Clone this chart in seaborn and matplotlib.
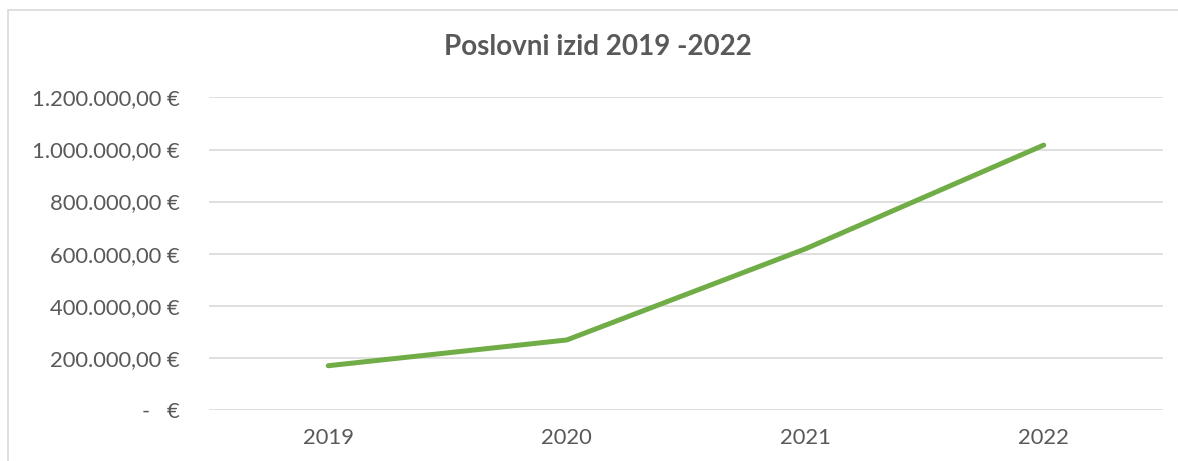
import matplotlib
matplotlib.use("Agg")
import matplotlib.pyplot as plt
from matplotlib.ticker import FuncFormatter
from matplotlib.patches import Rectangle
import seaborn as sns
import pandas as pd

years = ["2019", "2020", "2021", "2022"]
values = [169000, 268000, 618000, 1017000]
y_ticks = [0, 200000, 400000, 600000, 800000, 1000000, 1200000]
title = "Poslovni izid 2019 -2022"

sns.set_theme(style="white")
plt.rcParams['font.family'] = ['Lato', 'DejaVu Sans']

df = pd.DataFrame({"year": years, "value": values})

fig = plt.figure(figsize=(11.78, 4.61), dpi=100)
ax = fig.add_axes([209/1178, (461-409.7)/461, (1163-209)/1178, (409.7-97.5)/461])

sns.lineplot(data=df, x="year", y="value", ax=ax, color="#70AD47", linewidth=3.6,
             solid_capstyle="round", solid_joinstyle="round", sort=False)

ax.set_xlim(-0.5, 3.5)
ax.set_ylim(0, 1200000)
ax.set_yticks(y_ticks)

def fmt(v, pos):
    if v == 0:
        return "-   €"
    s = f"{v:,.2f}".replace(",", "X").replace(".", ",").replace("X", ".")
    return s + " €"

ax.yaxis.set_major_formatter(FuncFormatter(fmt))
ax.grid(axis="y", color="#d9d9d9", linewidth=1.2)
ax.grid(axis="x", visible=False)
ax.set_axisbelow(True)
for s in ax.spines.values():
    s.set_visible(False)
ax.tick_params(axis="both", length=0, labelsize=15.8, colors="#595959")
ax.tick_params(axis="y", pad=21)
ax.tick_params(axis="x", pad=13)
ax.set_xlabel("")
ax.set_ylabel("")

fig.text(598/1178, 1 - 47/461, title, ha="center", va="center", fontsize=20,
         fontweight="bold", color="#595959")

fig.patches.append(Rectangle((8/1178, -0.05), 1.2, 1 - 10/461 + 0.05, transform=fig.transFigure,
                             fill=False, edgecolor="#d9d9d9", linewidth=1.2, zorder=0))

fig.savefig("out.png", dpi=100, facecolor="white")
